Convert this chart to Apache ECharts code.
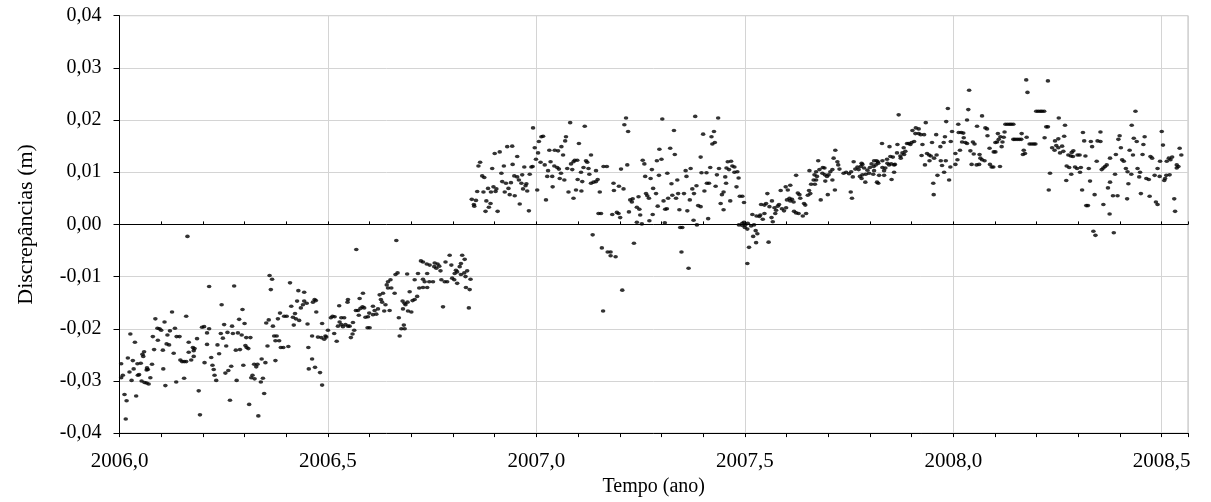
<!DOCTYPE html>
<html>
<head>
<meta charset="utf-8">
<script src="https://cdn.jsdelivr.net/npm/echarts@6/dist/echarts.min.js"></script>
<style>
  html, body { margin: 0; padding: 0; background: #fff; }
  #chart { width: 1211px; height: 502px; }
</style>
</head>
<body>
<div id="chart"></div>
<script>
// Discrepancies (m) against time (decimal year), grouped by period.
const early2006 = [
  [2006.163,-0.0023],[2006.215,-0.0119],[2006.126,-0.0168],[2006.086,-0.0181],[2006.160,-0.0176],[2006.108,-0.0187],
  [2006.091,-0.0199],[2006.096,-0.0200],[2006.100,-0.0203],[2006.121,-0.0204],[2006.133,-0.0199],[2006.026,-0.0210],
  [2006.080,-0.0215],[2006.115,-0.0212],[2006.137,-0.0215],[2006.144,-0.0215],[2006.092,-0.0222],[2006.037,-0.0226],
  [2006.113,-0.0229],[2006.119,-0.0231],[2006.166,-0.0226],[2006.186,-0.0219],[2006.198,-0.0197],[2006.203,-0.0196],
  [2006.215,-0.0200],[2006.210,-0.0208],[2006.083,-0.0240],[2006.104,-0.0241],[2006.130,-0.0247],[2006.176,-0.0236],
  [2006.180,-0.0238],[2006.178,-0.0242],[2006.210,-0.0230],[2006.166,-0.0245],[2006.059,-0.0244],[2006.055,-0.0249],
  [2006.057,-0.0253],[2006.020,-0.0256],[2006.032,-0.0261],[2006.043,-0.0267],[2006.004,-0.0267],[2006.051,-0.0266],
  [2006.146,-0.0260],[2006.150,-0.0263],[2006.155,-0.0263],[2006.160,-0.0263],[2006.172,-0.0260],[2006.178,-0.0253],
  [2006.220,-0.0255],[2006.204,-0.0265],[2006.078,-0.0268],[2006.066,-0.0275],[2006.068,-0.0278],[2006.065,-0.0279],
  [2006.034,-0.0277],[2006.105,-0.0277],[2006.008,-0.0289],[2006.004,-0.0294],[2006.024,-0.0283],[2006.044,-0.0289],
  [2006.047,-0.0288],[2006.074,-0.0294],[2006.029,-0.0299],[2006.053,-0.0300],[2006.060,-0.0303],[2006.065,-0.0304],
  [2006.070,-0.0306],[2006.110,-0.0309],[2006.136,-0.0302],[2006.155,-0.0295],[2006.012,-0.0326],[2006.017,-0.0338],
  [2006.040,-0.0329],[2006.190,-0.0319],[2006.193,-0.0365],[2006.015,-0.0373]
];
const mid2006 = [
  [2006.360,-0.0098],[2006.366,-0.0105],[2006.275,-0.0118],[2006.409,-0.0112],[2006.363,-0.0125],[2006.429,-0.0127],
  [2006.443,-0.0130],[2006.426,-0.0147],[2006.443,-0.0147],[2006.449,-0.0151],[2006.440,-0.0154],[2006.435,-0.0160],
  [2006.412,-0.0157],[2006.245,-0.0154],[2006.295,-0.0163],[2006.385,-0.0170],[2006.421,-0.0171],[2006.395,-0.0176],
  [2006.401,-0.0176],[2006.416,-0.0178],[2006.287,-0.0182],[2006.358,-0.0183],[2006.352,-0.0189],[2006.380,-0.0181],
  [2006.423,-0.0181],[2006.431,-0.0184],[2006.300,-0.0190],[2006.251,-0.0192],[2006.270,-0.0195],[2006.368,-0.0195],
  [2006.418,-0.0193],[2006.451,-0.0191],[2006.243,-0.0209],[2006.259,-0.0207],[2006.272,-0.0209],[2006.284,-0.0208],
  [2006.293,-0.0212],[2006.248,-0.0218],[2006.304,-0.0217],[2006.314,-0.0217],[2006.371,-0.0214],[2006.377,-0.0214],
  [2006.374,-0.0223],[2006.383,-0.0223],[2006.387,-0.0236],[2006.393,-0.0236],[2006.405,-0.0234],[2006.453,-0.0236],
  [2006.235,-0.0231],[2006.256,-0.0233],[2006.302,-0.0232],[2006.305,-0.0236],[2006.309,-0.0238],[2006.279,-0.0241],
  [2006.289,-0.0240],[2006.355,-0.0233],[2006.239,-0.0248],[2006.341,-0.0258],[2006.350,-0.0265],[2006.323,-0.0268],
  [2006.331,-0.0268],[2006.328,-0.0273],[2006.374,-0.0261],[2006.223,-0.0270],[2006.226,-0.0278],[2006.268,-0.0272],
  [2006.261,-0.0280],[2006.254,-0.0285],[2006.297,-0.0270],[2006.228,-0.0289],[2006.454,-0.0277],[2006.319,-0.0289],
  [2006.316,-0.0294],[2006.324,-0.0296],[2006.344,-0.0295],[2006.339,-0.0302],[2006.232,-0.0299],[2006.281,-0.0299],
  [2006.347,-0.0324],[2006.265,-0.0337],[2006.311,-0.0345],[2006.333,-0.0367],
  [2006.469,-0.0274],[2006.481,-0.0284],[2006.486,-0.0308],[2006.462,-0.0258]
];
const late2006 = [
  [2006.664,-0.0031],[2006.568,-0.0048],[2006.723,-0.0070],[2006.728,-0.0072],[2006.792,-0.0059],[2006.822,-0.0059],
  [2006.828,-0.0067],[2006.782,-0.0072],[2006.737,-0.0076],[2006.744,-0.0078],[2006.756,-0.0074],[2006.763,-0.0076],
  [2006.755,-0.0081],[2006.760,-0.0084],[2006.767,-0.0080],[2006.796,-0.0078],[2006.819,-0.0075],[2006.816,-0.0081],
  [2006.770,-0.0089],[2006.807,-0.0088],[2006.810,-0.0091],[2006.804,-0.0094],[2006.834,-0.0089],[2006.827,-0.0093],
  [2006.819,-0.0096],[2006.830,-0.0100],[2006.667,-0.0093],[2006.662,-0.0096],[2006.690,-0.0095],[2006.716,-0.0094],
  [2006.738,-0.0094],[2006.650,-0.0106],[2006.644,-0.0110],[2006.641,-0.0116],[2006.708,-0.0106],[2006.728,-0.0105],
  [2006.732,-0.0110],[2006.743,-0.0110],[2006.752,-0.0110],[2006.772,-0.0106],[2006.780,-0.0110],[2006.786,-0.0110],
  [2006.798,-0.0103],[2006.803,-0.0106],[2006.810,-0.0113],[2006.842,-0.0105],[2006.831,-0.0121],[2006.840,-0.0125],
  [2006.644,-0.0122],[2006.652,-0.0122],[2006.660,-0.0132],[2006.719,-0.0122],[2006.728,-0.0121],[2006.738,-0.0121],
  [2006.696,-0.0129],[2006.584,-0.0132],[2006.624,-0.0135],[2006.632,-0.0132],[2006.714,-0.0138],[2006.708,-0.0144],
  [2006.703,-0.0146],[2006.576,-0.0142],[2006.627,-0.0144],[2006.630,-0.0149],[2006.468,-0.0144],[2006.464,-0.0149],
  [2006.471,-0.0146],[2006.548,-0.0144],[2006.547,-0.0149],[2006.679,-0.0147],[2006.684,-0.0151],[2006.691,-0.0149],
  [2006.686,-0.0154],[2006.638,-0.0154],[2006.527,-0.0156],[2006.583,-0.0158],[2006.578,-0.0161],[2006.587,-0.0160],
  [2006.567,-0.0165],[2006.572,-0.0165],[2006.608,-0.0157],[2006.620,-0.0162],[2006.612,-0.0165],[2006.635,-0.0166],
  [2006.648,-0.0165],[2006.776,-0.0158],[2006.838,-0.0160],[2006.680,-0.0162],[2006.692,-0.0166],[2006.700,-0.0168],
  [2006.472,-0.0168],[2006.599,-0.0170],[2006.616,-0.0172],[2006.608,-0.0173],[2006.596,-0.0177],[2006.590,-0.0178],
  [2006.574,-0.0174],[2006.511,-0.0176],[2006.516,-0.0177],[2006.507,-0.0179],[2006.532,-0.0179],[2006.539,-0.0179],
  [2006.670,-0.0179],[2006.528,-0.0187],[2006.532,-0.0192],[2006.542,-0.0192],[2006.548,-0.0195],[2006.552,-0.0195],
  [2006.536,-0.0196],[2006.524,-0.0195],[2006.560,-0.0188],[2006.486,-0.0190],[2006.595,-0.0198],[2006.600,-0.0198],
  [2006.682,-0.0193],[2006.676,-0.0200],[2006.684,-0.0200],[2006.500,-0.0203],[2006.494,-0.0214],[2006.563,-0.0203],
  [2006.559,-0.0210],[2006.555,-0.0217],[2006.672,-0.0214],[2006.462,-0.0214],[2006.476,-0.0216],[2006.484,-0.0217],
  [2006.491,-0.0220],[2006.496,-0.0216],[2006.521,-0.0224],[2006.515,-0.0209]
];
const turn2007 = [
  [2006.992,0.0185],[2007.016,0.0169],[2007.012,0.0168],[2007.006,0.0159],[2006.996,0.0147],[2007.004,0.0137],
  [2007.031,0.0142],[2007.044,0.0142],[2007.052,0.0141],[2007.060,0.0149],[2006.930,0.0149],[2006.942,0.0150],
  [2006.912,0.0139],[2006.900,0.0136],[2006.954,0.0130],[2006.999,0.0125],[2006.865,0.0119],[2006.861,0.0112],
  [2006.943,0.0115],[2006.922,0.0112],[2007.010,0.0119],[2007.020,0.0114],[2007.034,0.0120],[2007.043,0.0112],
  [2007.050,0.0109],[2007.054,0.0106],[2006.971,0.0110],[2006.988,0.0110],[2006.991,0.0111],[2006.894,0.0107],
  [2006.916,0.0098],[2007.028,0.0103],[2007.059,0.0098],[2007.056,0.0088],[2006.870,0.0093],[2006.875,0.0090],
  [2006.947,0.0093],[2006.954,0.0091],[2006.966,0.0095],[2006.984,0.0096],[2007.026,0.0092],[2007.038,0.0092],
  [2006.958,0.0085],[2006.964,0.0079],[2006.976,0.0078],[2006.974,0.0074],[2006.918,0.0082],[2006.927,0.0079],
  [2006.939,0.0080],[2006.884,0.0069],[2006.897,0.0072],[2006.904,0.0068],[2006.933,0.0069],[2006.968,0.0068],
  [2006.978,0.0064],[2007.002,0.0066],[2007.039,0.0072],[2006.858,0.0063],[2006.873,0.0062],[2006.891,0.0062],
  [2006.902,0.0063],[2006.924,0.0062],[2006.936,0.0057],[2006.948,0.0055],[2006.845,0.0048],[2006.855,0.0046],
  [2006.850,0.0038],[2006.851,0.0035],[2006.880,0.0045],[2006.890,0.0040],[2006.886,0.0033],[2006.960,0.0039],
  [2007.023,0.0047],[2006.878,0.0025],[2006.907,0.0025],[2006.982,0.0026]
];
const spring2007 = [
  [2007.215,0.0204],[2007.211,0.0191],[2007.220,0.0178],[2007.081,0.0195],[2007.116,0.0188],[2007.071,0.0168],
  [2007.069,0.0160],[2007.102,0.0155],[2007.295,0.0144],[2007.064,0.0133],[2007.131,0.0133],[2007.092,0.0123],
  [2007.098,0.0123],[2007.083,0.0116],[2007.089,0.0120],[2007.119,0.0122],[2007.122,0.0119],[2007.255,0.0123],
  [2007.259,0.0116],[2007.289,0.0122],[2007.218,0.0114],[2007.161,0.0111],[2007.169,0.0111],[2007.113,0.0109],
  [2007.125,0.0107],[2007.074,0.0107],[2007.086,0.0105],[2007.143,0.0103],[2007.203,0.0106],[2007.277,0.0105],
  [2007.107,0.0100],[2007.127,0.0096],[2007.261,0.0092],[2007.274,0.0088],[2007.294,0.0094],[2007.067,0.0085],
  [2007.099,0.0086],[2007.110,0.0082],[2007.131,0.0079],[2007.137,0.0081],[2007.143,0.0082],[2007.147,0.0086],
  [2007.185,0.0079],[2007.198,0.0073],[2007.209,0.0068],[2007.186,0.0065],[2007.280,0.0069],[2007.077,0.0062],
  [2007.095,0.0066],[2007.108,0.0064],[2007.152,0.0062],[2007.263,0.0059],[2007.266,0.0055],[2007.270,0.0050],
  [2007.287,0.0059],[2007.245,0.0053],[2007.089,0.0050],[2007.225,0.0047],[2007.229,0.0043],[2007.231,0.0049],
  [2007.291,0.0035],[2007.241,0.0033],[2007.247,0.0029],[2007.149,0.0021],[2007.155,0.0021],[2007.182,0.0019],
  [2007.193,0.0023],[2007.197,0.0021],[2007.222,0.0024],[2007.201,0.0013],[2007.249,0.0018],[2007.279,0.0019],
  [2007.241,0.0004],[2007.253,0.0001],[2007.271,0.0007],[2007.135,-0.0020],[2007.157,-0.0045],[2007.171,-0.0053],
  [2007.178,-0.0053],[2007.178,-0.0060],[2007.190,-0.0062],[2007.234,-0.0036],[2007.206,-0.0126],[2007.160,-0.0166]
];
const summer2007 = [
  [2007.302,0.0202],[2007.381,0.0207],[2007.436,0.0204],[2007.330,0.0180],[2007.400,0.0173],[2007.420,0.0168],
  [2007.426,0.0178],[2007.422,0.0154],[2007.428,0.0157],[2007.321,0.0146],[2007.300,0.0125],[2007.332,0.0134],
  [2007.394,0.0129],[2007.459,0.0120],[2007.467,0.0121],[2007.470,0.0112],[2007.475,0.0110],[2007.417,0.0109],
  [2007.438,0.0107],[2007.456,0.0108],[2007.358,0.0103],[2007.370,0.0107],[2007.462,0.0105],[2007.475,0.0100],
  [2007.482,0.0101],[2007.314,0.0098],[2007.396,0.0099],[2007.408,0.0099],[2007.433,0.0095],[2007.360,0.0092],
  [2007.453,0.0091],[2007.485,0.0089],[2007.324,0.0078],[2007.338,0.0085],[2007.409,0.0079],[2007.414,0.0079],
  [2007.455,0.0079],[2007.384,0.0074],[2007.430,0.0073],[2007.480,0.0072],[2007.374,0.0068],[2007.403,0.0064],
  [2007.449,0.0062],[2007.445,0.0057],[2007.340,0.0059],[2007.326,0.0056],[2007.316,0.0050],[2007.305,0.0045],
  [2007.354,0.0059],[2007.378,0.0059],[2007.488,0.0054],[2007.494,0.0054],[2007.368,0.0047],[2007.335,0.0050],
  [2007.465,0.0045],[2007.498,0.0042],[2007.442,0.0040],[2007.388,0.0036],[2007.394,0.0034],[2007.309,0.0029],
  [2007.313,0.0030],[2007.343,0.0028],[2007.362,0.0026],[2007.449,0.0028],[2007.412,0.0011],[2007.377,0.0008],
  [2007.308,0.0003],[2007.385,-0.0001],[2007.345,-0.0006],[2007.350,-0.0006],[2007.486,-0.0001],[2007.494,0.0002],
  [2007.498,0.0004],[2007.501,-0.0001],[2007.506,-0.0009],[2007.500,-0.0006],[2007.494,-0.0002],[2007.518,0.0019],
  [2007.528,0.0016],[2007.507,0.0002],[2007.515,-0.0003],[2007.522,-0.0001],[2007.526,-0.0012],[2007.530,-0.0018],
  [2007.520,-0.0023],[2007.527,-0.0035],[2007.510,-0.0044],[2007.506,-0.0075],[2007.348,-0.0053],[2007.365,-0.0084]
];
const autumn2007 = [
  [2007.557,-0.0034],[2007.717,0.0142],[2007.713,0.0127],[2007.722,0.0120],[2007.724,0.0114],[2007.676,0.0122],
  [2007.761,0.0120],[2007.687,0.0109],[2007.691,0.0108],[2007.655,0.0103],[2007.671,0.0101],[2007.679,0.0105],
  [2007.705,0.0101],[2007.710,0.0105],[2007.727,0.0106],[2007.737,0.0098],[2007.743,0.0100],[2007.750,0.0097],
  [2007.755,0.0101],[2007.765,0.0106],[2007.667,0.0095],[2007.673,0.0092],[2007.686,0.0098],[2007.623,0.0094],
  [2007.692,0.0095],[2007.697,0.0092],[2007.701,0.0095],[2007.759,0.0091],[2007.665,0.0085],[2007.671,0.0085],
  [2007.693,0.0083],[2007.710,0.0085],[2007.659,0.0077],[2007.668,0.0077],[2007.598,0.0072],[2007.609,0.0075],
  [2007.603,0.0066],[2007.654,0.0065],[2007.586,0.0065],[2007.627,0.0060],[2007.631,0.0057],[2007.651,0.0056],
  [2007.657,0.0059],[2007.554,0.0059],[2007.716,0.0066],[2007.754,0.0062],[2007.699,0.0057],[2007.757,0.0050],
  [2007.633,0.0050],[2007.601,0.0047],[2007.607,0.0050],[2007.613,0.0048],[2007.617,0.0043],[2007.609,0.0045],
  [2007.682,0.0047],[2007.565,0.0045],[2007.539,0.0038],[2007.547,0.0037],[2007.551,0.0040],[2007.559,0.0034],
  [2007.571,0.0032],[2007.582,0.0038],[2007.579,0.0035],[2007.642,0.0040],[2007.645,0.0037],[2007.589,0.0030],
  [2007.594,0.0026],[2007.599,0.0032],[2007.575,0.0027],[2007.573,0.0021],[2007.618,0.0025],[2007.623,0.0022],
  [2007.629,0.0021],[2007.639,0.0016],[2007.647,0.0021],[2007.537,0.0018],[2007.535,0.0015],[2007.547,0.0021],
  [2007.564,0.0013],[2007.567,0.0005],[2007.543,0.0010]
];
const winter2007 = [
  [2007.869,0.0210],[2007.987,0.0222],[2007.983,0.0197],[2007.934,0.0195],[2007.997,0.0178],[2007.902,0.0180],
  [2007.910,0.0185],[2007.917,0.0183],[2007.909,0.0174],[2007.917,0.0174],[2007.922,0.0172],[2007.930,0.0172],
  [2007.959,0.0172],[2007.980,0.0168],[2007.994,0.0159],[2007.906,0.0159],[2007.900,0.0157],[2007.893,0.0155],
  [2007.897,0.0153],[2007.889,0.0155],[2007.949,0.0157],[2007.926,0.0153],[2007.977,0.0157],[2007.969,0.0149],
  [2007.829,0.0155],[2007.847,0.0149],[2007.866,0.0153],[2007.881,0.0147],[2007.885,0.0140],[2007.878,0.0137],
  [2007.882,0.0134],[2007.865,0.0137],[2007.873,0.0131],[2007.874,0.0127],[2007.855,0.0129],[2007.849,0.0130],
  [2007.924,0.0132],[2007.937,0.0136],[2007.942,0.0133],[2007.946,0.0131],[2007.960,0.0133],[2007.954,0.0127],
  [2007.943,0.0122],[2007.932,0.0114],[2007.970,0.0122],[2007.973,0.0113],[2007.982,0.0122],[2007.993,0.0110],
  [2007.841,0.0125],[2007.830,0.0122],[2007.842,0.0117],[2007.846,0.0114],[2007.858,0.0114],[2007.860,0.0115],
  [2007.851,0.0116],[2007.810,0.0122],[2007.816,0.0122],[2007.819,0.0120],[2007.804,0.0116],[2007.800,0.0109],
  [2007.809,0.0111],[2007.814,0.0114],[2007.820,0.0117],[2007.830,0.0109],[2007.837,0.0108],[2007.834,0.0103],
  [2007.782,0.0115],[2007.778,0.0111],[2007.786,0.0108],[2007.780,0.0117],[2007.770,0.0110],[2007.773,0.0105],
  [2007.794,0.0104],[2007.798,0.0098],[2007.790,0.0096],[2007.810,0.0103],[2007.808,0.0096],[2007.858,0.0100],
  [2007.822,0.0094],[2007.834,0.0094],[2007.776,0.0092],[2007.782,0.0095],[2007.780,0.0088],[2007.789,0.0081],
  [2007.817,0.0081],[2007.820,0.0079],[2007.852,0.0086],[2007.978,0.0100],[2007.962,0.0094],[2007.952,0.0079],
  [2007.990,0.0085],[2007.953,0.0057]
];
const early2008 = [
  [2008.175,0.0277],[2008.227,0.0275],[2008.178,0.0253],[2008.038,0.0257],[2008.036,0.0220],[2008.199,0.0217],
  [2008.204,0.0217],[2008.209,0.0217],[2008.213,0.0217],[2008.218,0.0217],[2008.069,0.0208],[2008.033,0.0200],
  [2008.253,0.0204],[2008.012,0.0192],[2008.125,0.0192],[2008.130,0.0192],[2008.135,0.0192],[2008.139,0.0192],
  [2008.144,0.0192],[2008.057,0.0188],[2008.077,0.0185],[2008.081,0.0183],[2008.223,0.0187],[2008.227,0.0187],
  [2008.013,0.0176],[2008.019,0.0176],[2008.024,0.0175],[2008.123,0.0177],[2008.107,0.0174],[2008.113,0.0168],
  [2008.109,0.0163],[2008.105,0.0158],[2008.164,0.0174],[2008.082,0.0170],[2008.121,0.0167],[2008.118,0.0158],
  [2008.176,0.0167],[2008.219,0.0166],[2008.252,0.0164],[2008.244,0.0160],[2008.025,0.0166],[2008.029,0.0157],
  [2008.021,0.0158],[2008.033,0.0155],[2008.047,0.0158],[2008.051,0.0154],[2008.144,0.0163],[2008.148,0.0163],
  [2008.153,0.0163],[2008.158,0.0163],[2008.163,0.0163],[2008.101,0.0157],[2008.183,0.0154],[2008.188,0.0154],
  [2008.193,0.0154],[2008.197,0.0154],[2008.116,0.0149],[2008.087,0.0146],[2008.097,0.0139],[2008.101,0.0139],
  [2008.237,0.0147],[2008.243,0.0142],[2008.247,0.0151],[2008.252,0.0147],[2008.169,0.0142],[2008.172,0.0136],
  [2008.167,0.0134],[2008.005,0.0136],[2008.016,0.0142],[2008.041,0.0141],[2008.049,0.0135],[2008.063,0.0134],
  [2008.256,0.0137],[2008.261,0.0150],[2008.065,0.0127],[2008.069,0.0124],[2008.075,0.0122],[2008.010,0.0124],
  [2008.005,0.0115],[2008.044,0.0115],[2008.056,0.0114],[2008.062,0.0115],[2008.088,0.0115],[2008.092,0.0110],
  [2008.096,0.0110],[2008.112,0.0111],[2008.232,0.0098],[2008.229,0.0066]
];
const mid2008 = [
  [2008.437,0.0217],[2008.428,0.0190],[2008.268,0.0190],[2008.500,0.0178],[2008.353,0.0177],[2008.311,0.0176],
  [2008.266,0.0169],[2008.399,0.0170],[2008.396,0.0163],[2008.314,0.0160],[2008.330,0.0159],[2008.346,0.0160],
  [2008.353,0.0159],[2008.433,0.0165],[2008.440,0.0159],[2008.459,0.0168],[2008.456,0.0153],[2008.503,0.0152],
  [2008.333,0.0149],[2008.402,0.0147],[2008.543,0.0146],[2008.423,0.0142],[2008.264,0.0140],[2008.288,0.0141],
  [2008.284,0.0138],[2008.276,0.0133],[2008.282,0.0131],[2008.287,0.0130],[2008.298,0.0133],[2008.303,0.0133],
  [2008.317,0.0131],[2008.390,0.0134],[2008.431,0.0133],[2008.454,0.0134],[2008.473,0.0130],[2008.477,0.0127],
  [2008.547,0.0133],[2008.376,0.0127],[2008.525,0.0129],[2008.517,0.0127],[2008.521,0.0124],[2008.512,0.0121],
  [2008.405,0.0124],[2008.409,0.0121],[2008.344,0.0121],[2008.496,0.0121],[2008.272,0.0112],[2008.278,0.0109],
  [2008.292,0.0110],[2008.297,0.0107],[2008.306,0.0109],[2008.368,0.0114],[2008.364,0.0111],[2008.360,0.0108],
  [2008.356,0.0105],[2008.325,0.0107],[2008.414,0.0107],[2008.418,0.0101],[2008.442,0.0107],[2008.448,0.0100],
  [2008.490,0.0107],[2008.536,0.0114],[2008.540,0.0111],[2008.536,0.0108],[2008.283,0.0096],[2008.304,0.0100],
  [2008.388,0.0096],[2008.427,0.0096],[2008.463,0.0088],[2008.469,0.0086],[2008.446,0.0091],[2008.483,0.0094],
  [2008.495,0.0092],[2008.511,0.0094],[2008.519,0.0095],[2008.506,0.0084],[2008.508,0.0088],[2008.271,0.0084],
  [2008.328,0.0083],[2008.376,0.0081],[2008.420,0.0078],[2008.371,0.0070],[2008.309,0.0066],[2008.450,0.0059],
  [2008.339,0.0057],[2008.383,0.0055],[2008.394,0.0055],[2008.471,0.0054],[2008.417,0.0049],[2008.486,0.0043],
  [2008.490,0.0038],[2008.530,0.0049],[2008.360,0.0038],[2008.319,0.0036],[2008.323,0.0036],[2008.532,0.0025],
  [2008.375,0.0020],[2008.336,-0.0013],[2008.341,-0.0021],[2008.385,-0.0016]
];

// Axis ranges and ticks
const timeRange = [2006.0, 2008.563];
const timeStep = 0.5;
const timeMinorStep = 0.1;
const discRange = [-0.04, 0.04];
const discStep = 0.01;

const allPoints = [].concat(early2006, mid2006, late2006, turn2007, spring2007,
  summer2007, autumn2007, winter2007, early2008, mid2008);

const serif = '"Liberation Serif", "Times New Roman", serif';
const comma = (v, d) => v.toFixed(d).replace('.', ',');

const chart = echarts.init(document.getElementById('chart'), null, { renderer: 'canvas' });

// Axis drawn along the zero line, carrying the 0.1-year ticks on both sides.
const zeroLineAxis = (inside) => ({
  type: 'value', min: timeRange[0], max: timeRange[1], interval: timeMinorStep,
  position: 'bottom',
  axisLine: { show: true, onZero: true, lineStyle: { color: '#000', width: 1 } },
  axisTick: { show: true, inside: inside, length: inside ? 3 : 4, lineStyle: { color: '#000', width: 1 } },
  axisLabel: { show: false },
  splitLine: { show: false }
});

chart.setOption({
  animation: false,
  backgroundColor: '#fff',
  grid: {
    left: 119.5, right: 23, top: 15.7, bottom: 63,
    show: true, borderColor: '#bdbdbd', borderWidth: 1, backgroundColor: 'transparent'
  },
  xAxis: [
    {
      type: 'value', min: timeRange[0], max: timeRange[1], interval: timeStep,
      position: 'bottom',
      name: 'Tempo (ano)', nameLocation: 'middle', nameGap: 40,
      nameTextStyle: { fontFamily: serif, fontSize: 20, color: '#000' },
      axisLine: { show: false, onZero: false },
      axisTick: { show: false },
      axisLabel: {
        fontFamily: serif, fontSize: 21, color: '#000', margin: 18,
        showMaxLabel: false,
        formatter: (v) => comma(v, 1)
      },
      splitLine: { show: true, lineStyle: { color: '#d4d4d4', width: 1 } }
    },
    zeroLineAxis(true),
    zeroLineAxis(false)
  ],
  yAxis: {
    type: 'value', min: discRange[0], max: discRange[1], interval: discStep,
    position: 'left',
    name: 'Discrepâncias (m)', nameLocation: 'middle', nameGap: 82, nameRotate: 90,
    nameTextStyle: { fontFamily: serif, fontSize: 22, color: '#000' },
    axisLine: { show: true, onZero: false, lineStyle: { color: '#000', width: 1 } },
    axisTick: { show: true, inside: false, length: 6, lineStyle: { color: '#000', width: 1 } },
    axisLabel: {
      fontFamily: serif, fontSize: 20, color: '#000', margin: 18,
      formatter: (v) => comma(v, 2)
    },
    splitLine: { show: true, lineStyle: { color: '#d4d4d4', width: 1 } }
  },
  series: [{
    type: 'scatter',
    xAxisIndex: 0, yAxisIndex: 0,
    data: allPoints,
    symbol: 'circle',
    symbolSize: [4.6, 3.6],
    itemStyle: { color: '#000' },
    silent: true
  }]
});
</script>
</body>
</html>
